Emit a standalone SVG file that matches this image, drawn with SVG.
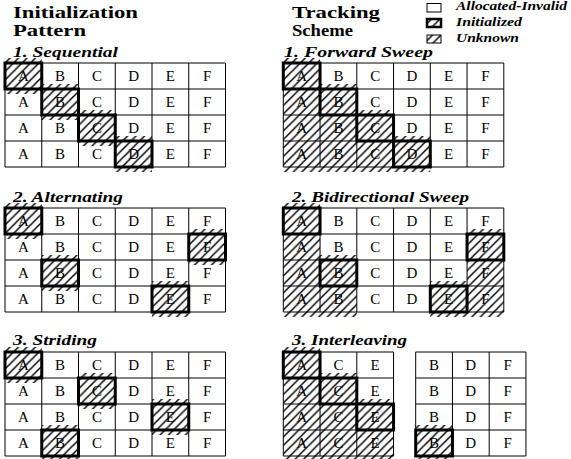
<svg xmlns="http://www.w3.org/2000/svg" xmlns:xlink="http://www.w3.org/1999/xlink" width="571" height="459" viewBox="0 0 571 459" font-family="Times New Roman, Liberation Serif, serif">
<style>
text{font-family:'Times New Roman','Liberation Serif',Times,serif}
.t{font-weight:bold;font-style:normal;font-size:16px;fill:#000}
.s{font-weight:bold;font-style:italic;font-size:15px;fill:#000}
.l{font-weight:bold;font-style:italic;font-size:12px;fill:#000}
.c text{font-weight:normal;font-style:normal;font-size:15px;text-anchor:middle;fill:#000}
.ln{fill:none;stroke:#000;stroke-width:1}
.h{fill:url(#hp);stroke:none}
.k{fill:none;stroke:#000;stroke-width:3}
</style>
<defs>
<pattern id="hp" patternUnits="userSpaceOnUse" width="8.5" height="8.5">
<path d="M0,8.5L8.5,0M-2,2L2,-2M6.5,10.5L10.5,6.5" stroke="#000" stroke-width="1.5" fill="none"/>
</pattern>
<g id="row6" class="c" font-weight="normal" font-style="normal" font-size="15" text-anchor="middle"><text x="18.4" y="18">A</text><text x="55.1" y="18">B</text><text x="91.9" y="18">C</text><text x="128.6" y="18">D</text><text x="165.4" y="18">E</text><text x="202.1" y="18">F</text></g>
<g id="grid6">
<path class="ln" d="M0,0H220.5V104H0ZM0,26H220.5M0,52H220.5M0,78H220.5M36.75,0V104M73.5,0V104M110.25,0V104M147,0V104M183.75,0V104"/>
<use xlink:href="#row6"/><use xlink:href="#row6" y="26"/><use xlink:href="#row6" y="52"/><use xlink:href="#row6" y="78"/>
</g>
<path id="grid3" class="ln" d="M0,0H110.25V104H0ZM0,26H110.25M0,52H110.25M0,78H110.25M36.75,0V104M73.5,0V104"/>
<g id="rowACE" class="c" font-weight="normal" font-style="normal" font-size="15" text-anchor="middle"><text x="18.4" y="18">A</text><text x="55.1" y="18">C</text><text x="91.9" y="18">E</text></g>
<g id="rowBDF" class="c" font-weight="normal" font-style="normal" font-size="15" text-anchor="middle"><text x="18.4" y="18">B</text><text x="55.1" y="18">D</text><text x="91.9" y="18">F</text></g>
</defs>
<rect width="571" height="459" fill="#fff"/>

<g id="titles" font-weight="bold" font-size="16">
<text class="t" x="13" y="18" textLength="125" lengthAdjust="spacingAndGlyphs">Initialization</text>
<text class="t" x="13" y="36" textLength="73" lengthAdjust="spacingAndGlyphs">Pattern</text>
<text class="t" x="292" y="18" textLength="88" lengthAdjust="spacingAndGlyphs">Tracking</text>
<text class="t" x="292" y="36" textLength="61" lengthAdjust="spacingAndGlyphs">Scheme</text>
</g>

<g id="legend">
<rect class="ln" x="427" y="3.5" width="14" height="8.5"/>
<rect class="h" x="427" y="19" width="14" height="8"/>
<rect x="427" y="19" width="14" height="8" fill="none" stroke="#000" stroke-width="2.5"/>
<rect class="h" x="427" y="35" width="14" height="8"/>
<rect class="ln" x="427" y="35" width="14" height="8"/>
<g font-weight="bold" font-style="italic" font-size="12">
<text class="l" x="456" y="10" textLength="111" lengthAdjust="spacingAndGlyphs">Allocated-Invalid</text>
<text class="l" x="456" y="26" textLength="66" lengthAdjust="spacingAndGlyphs">Initialized</text>
<text class="l" x="456" y="42" textLength="63" lengthAdjust="spacingAndGlyphs">Unknown</text>
</g>
</g>

<g id="sequential">
<text class="s" x="13" y="57" textLength="105" lengthAdjust="spacingAndGlyphs">1. Sequential</text>
<g transform="translate(5,63)">
<use xlink:href="#grid6"/>
<rect class="h" x="0" y="-5" width="36.75" height="36"/>
<rect class="h" x="36.75" y="21" width="36.75" height="36"/>
<rect class="h" x="73.5" y="47" width="36.75" height="36"/>
<rect class="h" x="110.25" y="73" width="36.75" height="36"/>
<rect class="k" x="0" y="0" width="36.75" height="26"/>
<rect class="k" x="36.75" y="26" width="36.75" height="26"/>
<rect class="k" x="73.5" y="52" width="36.75" height="26"/>
<rect class="k" x="110.25" y="78" width="36.75" height="26"/>
</g>
</g>

<g id="forward-sweep">
<text class="s" x="284" y="57" textLength="149" lengthAdjust="spacingAndGlyphs">1. Forward Sweep</text>
<g transform="translate(283.3,63)">
<use xlink:href="#grid6"/>
<rect class="h" x="0" y="-5" width="36.75" height="114"/>
<rect class="h" x="36.75" y="21" width="36.75" height="88"/>
<rect class="h" x="73.5" y="47" width="36.75" height="62"/>
<rect class="h" x="110.25" y="73" width="36.75" height="36"/>
<rect class="k" x="0" y="0" width="36.75" height="26"/>
<rect class="k" x="36.75" y="26" width="36.75" height="26"/>
<rect class="k" x="73.5" y="52" width="36.75" height="26"/>
<rect class="k" x="110.25" y="78" width="36.75" height="26"/>
</g>
</g>

<g id="alternating">
<text class="s" x="13" y="202" textLength="110" lengthAdjust="spacingAndGlyphs">2. Alternating</text>
<g transform="translate(5,208)">
<use xlink:href="#grid6"/>
<rect class="h" x="0" y="-5" width="36.75" height="36"/>
<rect class="h" x="183.75" y="21" width="36.75" height="36"/>
<rect class="h" x="36.75" y="47" width="36.75" height="36"/>
<rect class="h" x="147" y="73" width="36.75" height="36"/>
<rect class="k" x="0" y="0" width="36.75" height="26"/>
<rect class="k" x="183.75" y="26" width="36.75" height="26"/>
<rect class="k" x="36.75" y="52" width="36.75" height="26"/>
<rect class="k" x="147" y="78" width="36.75" height="26"/>
</g>
</g>

<g id="bidirectional-sweep">
<text class="s" x="292" y="202" textLength="177" lengthAdjust="spacingAndGlyphs">2. Bidirectional Sweep</text>
<g transform="translate(283.3,208)">
<use xlink:href="#grid6"/>
<rect class="h" x="0" y="-5" width="36.75" height="114"/>
<rect class="h" x="36.75" y="47" width="36.75" height="62"/>
<rect class="h" x="183.75" y="21" width="36.75" height="88"/>
<rect class="h" x="147" y="73" width="36.75" height="36"/>
<rect class="k" x="0" y="0" width="36.75" height="26"/>
<rect class="k" x="183.75" y="26" width="36.75" height="26"/>
<rect class="k" x="36.75" y="52" width="36.75" height="26"/>
<rect class="k" x="147" y="78" width="36.75" height="26"/>
</g>
</g>

<g id="striding">
<text class="s" x="13" y="345" textLength="84" lengthAdjust="spacingAndGlyphs">3. Striding</text>
<g transform="translate(5,352)">
<use xlink:href="#grid6"/>
<rect class="h" x="0" y="-5" width="36.75" height="36"/>
<rect class="h" x="73.5" y="21" width="36.75" height="36"/>
<rect class="h" x="147" y="47" width="36.75" height="36"/>
<rect class="h" x="36.75" y="73" width="36.75" height="36"/>
<rect class="k" x="0" y="0" width="36.75" height="26"/>
<rect class="k" x="73.5" y="26" width="36.75" height="26"/>
<rect class="k" x="147" y="52" width="36.75" height="26"/>
<rect class="k" x="36.75" y="78" width="36.75" height="26"/>
</g>
</g>

<g id="interleaving">
<text class="s" x="292" y="345" textLength="115" lengthAdjust="spacingAndGlyphs">3. Interleaving</text>
<g transform="translate(283.3,352)">
<use xlink:href="#grid3"/>
<use xlink:href="#rowACE"/><use xlink:href="#rowACE" y="26"/><use xlink:href="#rowACE" y="52"/><use xlink:href="#rowACE" y="78"/>
<rect class="h" x="0" y="-5" width="36.75" height="114"/>
<rect class="h" x="36.75" y="21" width="36.75" height="88"/>
<rect class="h" x="73.5" y="47" width="36.75" height="62"/>
<rect class="k" x="0" y="0" width="36.75" height="26"/>
<rect class="k" x="36.75" y="26" width="36.75" height="26"/>
<rect class="k" x="73.5" y="52" width="36.75" height="26"/>
</g>
<g transform="translate(415.7,352)">
<use xlink:href="#grid3"/>
<use xlink:href="#rowBDF"/><use xlink:href="#rowBDF" y="26"/><use xlink:href="#rowBDF" y="52"/><use xlink:href="#rowBDF" y="78"/>
<rect class="h" x="0" y="73" width="36.75" height="36"/>
<rect class="k" x="0" y="78" width="36.75" height="26"/>
</g>
</g>
</svg>
